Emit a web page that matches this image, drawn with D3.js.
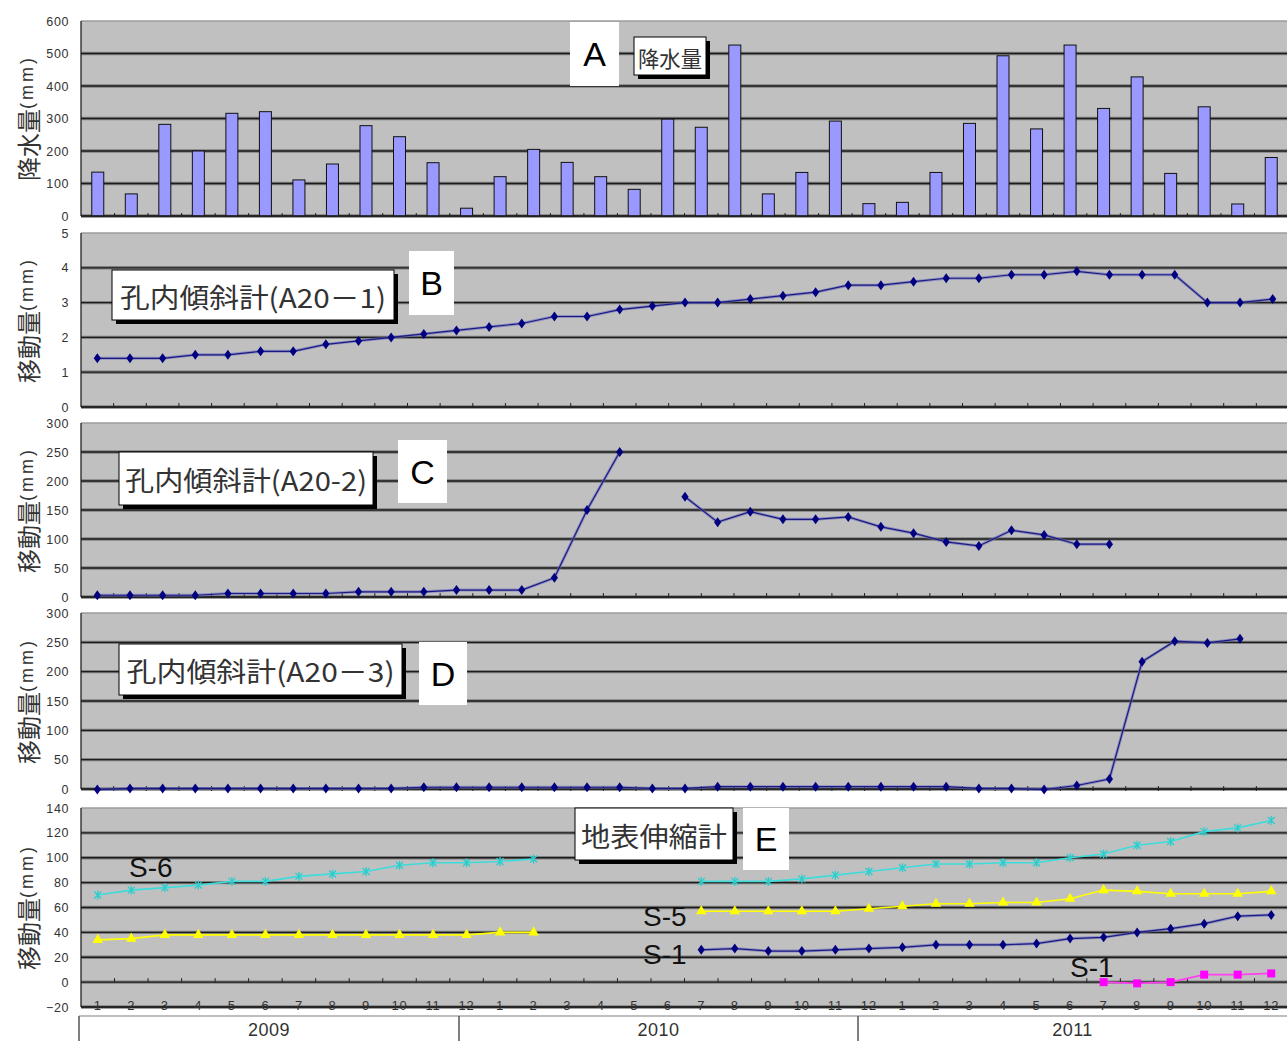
<!DOCTYPE html>
<html><head><meta charset="utf-8">
<script src="https://cdn.jsdelivr.net/npm/d3@7"></script>
<style>body{margin:0;background:#fff}svg{display:block}</style>
</head><body><svg id="c" width="1287" height="1041"></svg>
<script>
// ---------- DATA ----------
const monthLabels = ["1","2","3","4","5","6","7","8","9","10","11","12",
                     "1","2","3","4","5","6","7","8","9","10","11","12",
                     "1","2","3","4","5","6","7","8","9","10","11","12"];
const yearLabels = ["2009","2010","2011"];
// A: monthly precipitation (mm)
const rainfall = [135,68,282,200,316,321,111,160,278,244,164,24,
                  121,205,165,121,82,298,273,526,68,134,292,38,
                  42,134,285,493,268,526,331,428,131,336,37,180];
// B: borehole inclinometer A20-1 (mm), 37 readings
const a20_1 = [1.4,1.4,1.4,1.5,1.5,1.6,1.6,1.8,1.9,2.0,2.1,2.2,2.3,2.4,2.6,2.6,2.8,2.9,
               3.0,3.0,3.1,3.2,3.3,3.5,3.5,3.6,3.7,3.7,3.8,3.8,3.9,3.8,3.8,3.8,3.0,3.0,3.1];
// C: A20-2 (mm)
const a20_2 = [3,3,3,3,6,6,6,6,9,9,9,12,12,12,33,150,250,null,
               173,129,147,134,134,138,121,110,95,88,115,107,91,91,null,null,null,null,null];
// D: A20-3 (mm)
const a20_3 = [-1,1,1,1,1,1,1,1,1,1,3,3,3,3,3,3,3,
               1,1,4,4,4,4,4,4,4,4,1,1,-1,6,17,217,252,249,256,null];
// E: extensometers (mm)
const s6  = [70,74,76,78,81,81,85,87,89,94,96,96,97,99,null,null,null,null,
             81,81,81,83,86,89,92,95,95,96,96,100,103,110,113,121,124,130];
const s5  = [34,35,38,38,38,38,38,38,38,38,38,38,40,40,null,null,null,null,
             57,57,57,57,57,59,61,63,63,64,64,67,74,73,71,71,71,73];
const s1  = [null,null,null,null,null,null,null,null,null,null,null,null,null,null,null,null,null,null,
             26,27,25,25,26,27,28,30,30,30,31,35,36,40,43,47,53,54];
const s1b = [null,null,null,null,null,null,null,null,null,null,null,null,null,null,null,null,null,null,
             null,null,null,null,null,null,null,null,null,null,null,null,0,-1,0,6,6,7];
const ticksA = [0,100,200,300,400,500,600];
const ticksB = [0,1,2,3,4,5];
const ticksCD = [0,50,100,150,200,250,300];
const ticksE = [-20,0,20,40,60,80,100,120,140];

// ---------- DRAW ----------
const svg = d3.select("#c");
svg.append("rect").attr("width",1287).attr("height",1041).attr("fill","#fff");
const LAT = "'Liberation Sans', Arial, sans-serif";
const CJK = "'Noto Sans CJK JP', 'Noto Sans', sans-serif";

function panel(cfg){
  const {top,bottom,left,right,domain,ticks,n} = cfg;
  const g = svg.append("g");
  const x = d3.scaleBand().domain(d3.range(n)).range([left,right]);
  const cx = i => x(i) + x.bandwidth()/2;
  const y = d3.scaleLinear().domain(domain).range([bottom,top]);
  g.append("rect").attr("x",left).attr("y",top).attr("width",right-left)
    .attr("height",bottom-top).attr("fill","#c0c0c0");
  const inner = ticks.filter(t => t !== domain[1]);
  g.selectAll("line.halo").data(inner).join("line").attr("class","halo")
    .attr("x1",left).attr("x2",right).attr("y1",d=>y(d)).attr("y2",d=>y(d))
    .attr("stroke","#808080").attr("stroke-width",3.4);
  g.selectAll("line.core").data(inner).join("line").attr("class","core")
    .attr("x1",left).attr("x2",right).attr("y1",d=>y(d)).attr("y2",d=>y(d))
    .attr("stroke","#1c1c1c").attr("stroke-width",1.3);
  g.append("line").attr("x1",left).attr("x2",right).attr("y1",top).attr("y2",top)
    .attr("stroke","#9c9c9c").attr("stroke-width",1.6);
  g.append("line").attr("x1",left).attr("x2",left).attr("y1",top).attr("y2",bottom)
    .attr("stroke","#222").attr("stroke-width",1.3);
  const ax = g.append("g").attr("transform",`translate(${left},0)`)
    .call(d3.axisLeft(y).tickValues(ticks).tickFormat(d3.format("d")).tickSize(0).tickPadding(left-69));
  ax.select(".domain").remove();
  ax.selectAll("text").attr("font-family",LAT).attr("font-size",12.5).attr("fill","#333")
    .attr("letter-spacing",0.6);
  return {g,x,cx,y};
}

function xTicks(p, yBase, len){
  const edges = d3.range(1, p.x.domain().length);
  p.g.selectAll("line.xt").data(edges).join("line")
    .attr("x1",d=>p.x(d)).attr("x2",d=>p.x(d))
    .attr("y1",yBase).attr("y2",yBase-len).attr("stroke","#222").attr("stroke-width",1);
}

function yTitle(text, cy){
  const t = svg.append("text").attr("transform",`translate(27,${cy}) rotate(-90)`)
    .attr("text-anchor","middle").attr("dominant-baseline","central").attr("fill","#333");
  t.append("tspan").attr("font-family",CJK).attr("font-size",24).text(text);
  t.append("tspan").attr("font-family",LAT).attr("font-size",18).attr("letter-spacing",3).text("(mm)");
}

function titleBox(x0,y0,w,h,txt,fs,tl){
  svg.append("rect").attr("x",x0+4).attr("y",y0+4).attr("width",w).attr("height",h).attr("fill","#000");
  svg.append("rect").attr("x",x0).attr("y",y0).attr("width",w).attr("height",h)
    .attr("fill","#fff").attr("stroke","#000").attr("stroke-width",1);
  svg.append("text").attr("x",x0+w/2).attr("y",y0+h/2+1).attr("text-anchor","middle")
    .attr("dominant-baseline","central").attr("font-family",CJK).attr("font-size",fs)
    .attr("fill","#333").attr("textLength",tl).attr("lengthAdjust","spacingAndGlyphs").text(txt);
}
function letterBox(x0,y0,w,h,L){
  svg.append("rect").attr("x",x0).attr("y",y0).attr("width",w).attr("height",h).attr("fill","#fff");
  svg.append("text").attr("x",x0+w/2).attr("y",y0+h/2+12).attr("text-anchor","middle")
    .attr("font-family",LAT).attr("font-size",34).attr("fill","#000").text(L);
}

const diamond = "M0,-5L3.6,0L0,5L-3.6,0Z";
let serialN = 0;
function navySeries(p, data){
  const line = d3.line().defined(d=>d!=null).x((d,i)=>p.cx(i)).y(d=>p.y(d));
  p.g.append("path").datum(data).attr("d",line).attr("fill","none")
    .attr("stroke","#6b6bc0").attr("stroke-width",3).attr("opacity",0.6);
  p.g.append("path").datum(data).attr("d",line).attr("fill","none")
    .attr("stroke","#1a1a80").attr("stroke-width",1.2);
  const cls = "m" + (serialN++);
  p.g.selectAll("path."+cls).data(data.map((v,i)=>({v,i})).filter(d=>d.v!=null))
    .join("path").attr("class",cls).attr("d",diamond).attr("fill","#000080")
    .attr("transform",d=>`translate(${p.cx(d.i)},${p.y(d.v)})`);
}

// ---- Panel A ----
const pA = panel({top:21,bottom:216,left:81,right:1288,domain:[0,600],ticks:ticksA,n:36});
pA.g.selectAll("rect.bar").data(rainfall).join("rect").attr("class","bar")
  .attr("x",(d,i)=>pA.cx(i)-6).attr("width",12)
  .attr("y",d=>pA.y(d)).attr("height",d=>pA.y(0)-pA.y(d))
  .attr("fill","#9999ff").attr("stroke","#111").attr("stroke-width",1);
pA.g.append("line").attr("x1",81).attr("x2",1288).attr("y1",216).attr("y2",216).attr("stroke","#222").attr("stroke-width",1.5);
xTicks(pA,216,3);
yTitle("降水量",118);
letterBox(570,22,49,64,"A");
titleBox(634,37,72,38,"降水量",22,64);

// ---- Panel B ----
const pB = panel({top:233,bottom:407,left:81,right:1289,domain:[0,5],ticks:ticksB,n:37});
pB.g.append("line").attr("x1",81).attr("x2",1289).attr("y1",407).attr("y2",407).attr("stroke","#222").attr("stroke-width",1.5);
xTicks(pB,407,4);
navySeries(pB,a20_1);
yTitle("移動量",320);
titleBox(112,270,282,50,"孔内傾斜計(A20－1)",27,266);
letterBox(409,251,45,64,"B");

// ---- Panel C ----
const pC = panel({top:423,bottom:597,left:81,right:1289,domain:[0,300],ticks:ticksCD,n:37});
pC.g.append("line").attr("x1",81).attr("x2",1289).attr("y1",597).attr("y2",597).attr("stroke","#222").attr("stroke-width",1.5);
xTicks(pC,597,4);
navySeries(pC,a20_2);
yTitle("移動量",510);
titleBox(119,452,254,53,"孔内傾斜計(A20-2)",27,242);
letterBox(398,440,49,63,"C");

// ---- Panel D ----
const pD = panel({top:613,bottom:789,left:81,right:1289,domain:[0,300],ticks:ticksCD,n:37});
pD.g.append("line").attr("x1",81).attr("x2",1289).attr("y1",789).attr("y2",789).attr("stroke","#222").attr("stroke-width",1.5);
xTicks(pD,791,5);
navySeries(pD,a20_3);
yTitle("移動量",701);
titleBox(119,644,283,51,"孔内傾斜計(A20－3)",27,268);
letterBox(419,642,48,63,"D");

// ---- Panel E ----
const pE = panel({top:808,bottom:1007,left:81,right:1288,domain:[-20,140],ticks:ticksE,n:36});
pE.g.append("line").attr("x1",81).attr("x2",1288).attr("y1",1007).attr("y2",1007).attr("stroke","#222").attr("stroke-width",1.5);
xTicks(pE,pE.y(0),4);
pE.g.selectAll("text.ml").data(monthLabels).join("text").attr("class","ml")
  .attr("x",(d,i)=>pE.cx(i)).attr("y",1010).attr("text-anchor","middle")
  .attr("font-family",LAT).attr("font-size",13).attr("letter-spacing",0.8).attr("fill","#333").text(d=>d);

const lineE = d3.line().defined(d=>d!=null).x((d,i)=>pE.cx(i)).y(d=>pE.y(d));
const pts = arr => arr.map((v,i)=>({v,i})).filter(d=>d.v!=null);
// S-6
pE.g.append("path").datum(s6).attr("d",lineE).attr("fill","none").attr("stroke","#3cdcdc").attr("stroke-width",1.6);
pE.g.selectAll("path.s6").data(pts(s6)).join("path").attr("class","s6")
  .attr("d","M-3.5,-3.5L3.5,3.5M-3.5,3.5L3.5,-3.5M0,-4.5L0,4.5").attr("stroke","#2ccccc").attr("stroke-width",1.3)
  .attr("fill","none").attr("transform",d=>`translate(${pE.cx(d.i)},${pE.y(d.v)})`);
// S-5
pE.g.append("path").datum(s5).attr("d",lineE).attr("fill","none").attr("stroke","#ffff00").attr("stroke-width",1.6);
pE.g.selectAll("path.s5").data(pts(s5)).join("path").attr("class","s5")
  .attr("d",d3.symbol(d3.symbolTriangle,48)).attr("fill","#ffff00")
  .attr("transform",d=>`translate(${pE.cx(d.i)},${pE.y(d.v)})`);
// S-1
pE.g.append("path").datum(s1).attr("d",lineE).attr("fill","none").attr("stroke","#6b6bc0").attr("stroke-width",3).attr("opacity",0.6);
pE.g.append("path").datum(s1).attr("d",lineE).attr("fill","none").attr("stroke","#1a1a80").attr("stroke-width",1.2);
pE.g.selectAll("path.s1").data(pts(s1)).join("path").attr("class","s1")
  .attr("d",diamond).attr("fill","#000080")
  .attr("transform",d=>`translate(${pE.cx(d.i)},${pE.y(d.v)})`);
// S-1 (second)
pE.g.append("path").datum(s1b).attr("d",lineE).attr("fill","none").attr("stroke","#ff40f0").attr("stroke-width",1.6);
pE.g.selectAll("path.s1b").data(pts(s1b)).join("path").attr("class","s1b")
  .attr("d","M-4,-4h8v8h-8z").attr("fill","#ff00ff")
  .attr("transform",d=>`translate(${pE.cx(d.i)},${pE.y(d.v)})`);

yTitle("移動量",907);
titleBox(575,808,158,52,"地表伸縮計",27,146);
letterBox(743,808,46,62,"E");

const sLab = (x,y,t)=>svg.append("text").attr("x",x).attr("y",y).attr("font-family",LAT)
  .attr("font-size",28).attr("fill","#111").text(t);
sLab(129,877,"S-6");
sLab(643,926,"S-5");
sLab(643,964,"S-1");
sLab(1070,977,"S-1");

// year table
const yearTop = 1016;
const yearEdges = [79,459,858,1287];
svg.append("line").attr("x1",79).attr("x2",1287).attr("y1",yearTop).attr("y2",yearTop)
  .attr("stroke","#a8a8a8").attr("stroke-width",1.5);
svg.selectAll("line.yd").data(yearEdges.slice(0,3)).join("line").attr("class","yd")
  .attr("x1",d=>d).attr("x2",d=>d).attr("y1",yearTop).attr("y2",1041)
  .attr("stroke","#555").attr("stroke-width",1.5);
svg.selectAll("text.yr").data(yearLabels).join("text").attr("class","yr")
  .attr("x",(d,i)=>(yearEdges[i]+yearEdges[i+1])/2).attr("y",1036)
  .attr("text-anchor","middle").attr("font-family",LAT).attr("font-size",18)
  .attr("letter-spacing",0.5).attr("fill","#333").text(d=>d);
</script></body></html>
